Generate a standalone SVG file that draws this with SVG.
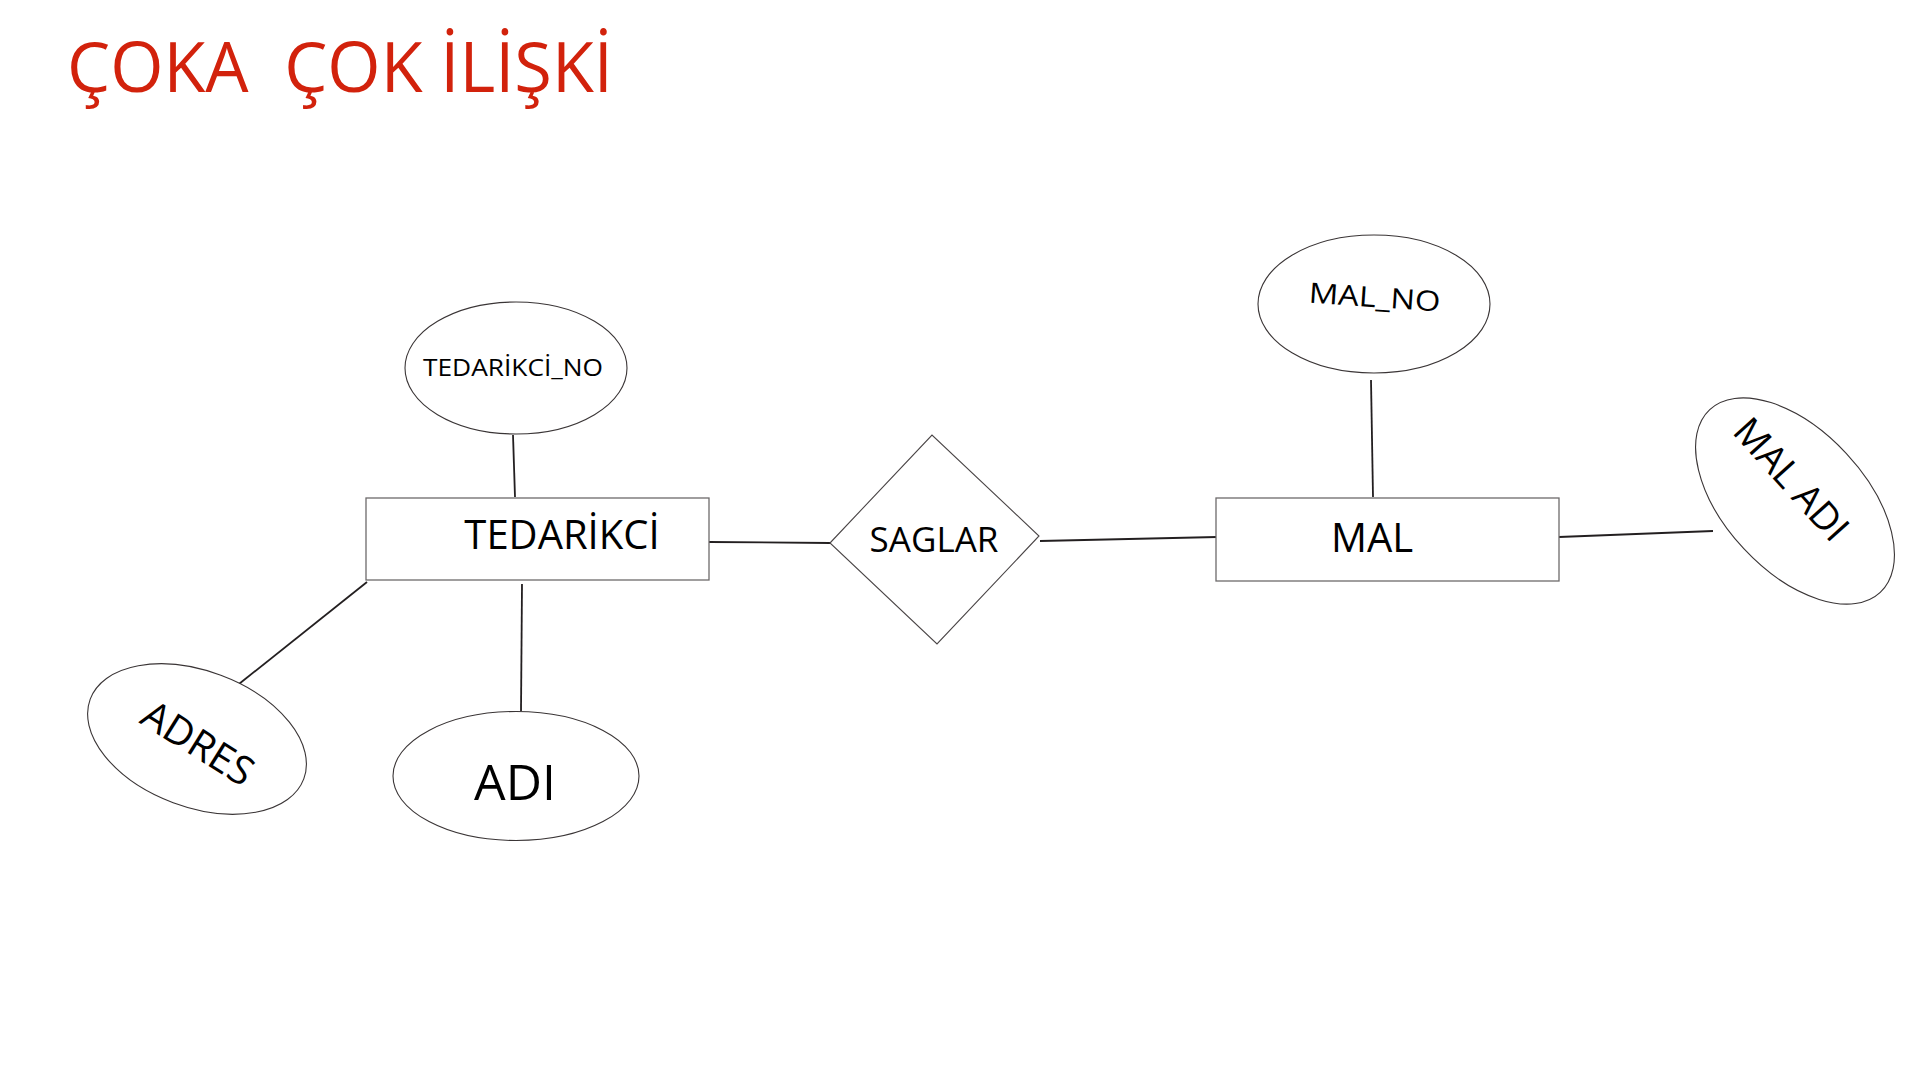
<svg xmlns="http://www.w3.org/2000/svg" width="1920" height="1080" viewBox="0 0 1920 1080">
<style>
  .bg { fill: #ffffff; }
  .title { font-family: "Open Sans", "Noto Sans", "Liberation Sans", sans-serif; font-size: 70px; fill: #d2220c; white-space: pre; }
  .lbl { font-family: "Open Sans", "Noto Sans", "Liberation Sans", sans-serif; fill: #000000; text-anchor: middle; }
  .ent { fill: #ffffff; stroke: #6d6a6b; stroke-width: 1.3; }
  .att { fill: #ffffff; stroke: #3a3536; stroke-width: 1.1; }
  .rel { fill: #ffffff; stroke: #4a4546; stroke-width: 1.1; }
  .conn line { stroke: #231f20; stroke-width: 1.8; stroke-linecap: butt; }
</style>
<rect class="bg" x="0" y="0" width="1920" height="1080"/>
<text class="title" x="67" y="92" textLength="546" lengthAdjust="spacingAndGlyphs">ÇOKA  ÇOK İLİŞKİ</text>

<g id="connectors" class="conn">
  <line x1="513" y1="435" x2="515" y2="497"/>
  <line x1="367" y1="582" x2="239" y2="684"/>
  <line x1="522" y1="584" x2="521" y2="711"/>
  <line x1="709" y1="542" x2="830" y2="543"/>
  <line x1="1040" y1="541" x2="1217" y2="537"/>
  <line x1="1371" y1="380" x2="1373" y2="497"/>
  <line x1="1559" y1="537" x2="1713" y2="531"/>
</g>

<g id="tedarikci">
  <rect class="ent" x="366" y="498" width="343" height="82"/>
  <text class="lbl" x="562" y="549" font-size="40">TEDARİKCİ</text>
</g>

<g id="tedarikci_no">
  <ellipse class="att" cx="516" cy="368" rx="111" ry="66"/>
  <text class="lbl" x="513" y="376" font-size="24" textLength="180" lengthAdjust="spacingAndGlyphs">TEDARİKCİ_NO</text>
</g>

<g id="adres">
  <ellipse class="att" cx="197" cy="739" rx="114" ry="68" transform="rotate(20.5 197 739)"/>
  <text class="lbl" font-size="40" transform="translate(198 743) rotate(32)" x="0" y="14">ADRES</text>
</g>

<g id="adi">
  <ellipse class="att" cx="516" cy="776" rx="123" ry="64.5"/>
  <text class="lbl" x="515" y="800" font-size="50">ADI</text>
</g>

<g id="saglar">
  <polygon class="rel" points="830,543 932,435 1039,536 937,644"/>
  <text class="lbl" x="934" y="552" font-size="35">SAGLAR</text>
</g>

<g id="mal">
  <rect class="ent" x="1216" y="498" width="343" height="83"/>
  <text class="lbl" x="1372" y="552" font-size="40">MAL</text>
</g>

<g id="mal_no">
  <ellipse class="att" cx="1374" cy="304" rx="116" ry="69"/>
  <text class="lbl" font-size="28" transform="rotate(4 1374 307)" x="1374" y="307" textLength="132" lengthAdjust="spacingAndGlyphs">MAL_NO</text>
</g>

<g id="mal_adi">
  <ellipse class="att" cx="1795" cy="501" rx="125" ry="70" transform="rotate(47 1795 501)"/>
  <text class="lbl" font-size="38" transform="translate(1792 479) rotate(48)" x="0" y="14">MAL ADI</text>
</g>
</svg>
